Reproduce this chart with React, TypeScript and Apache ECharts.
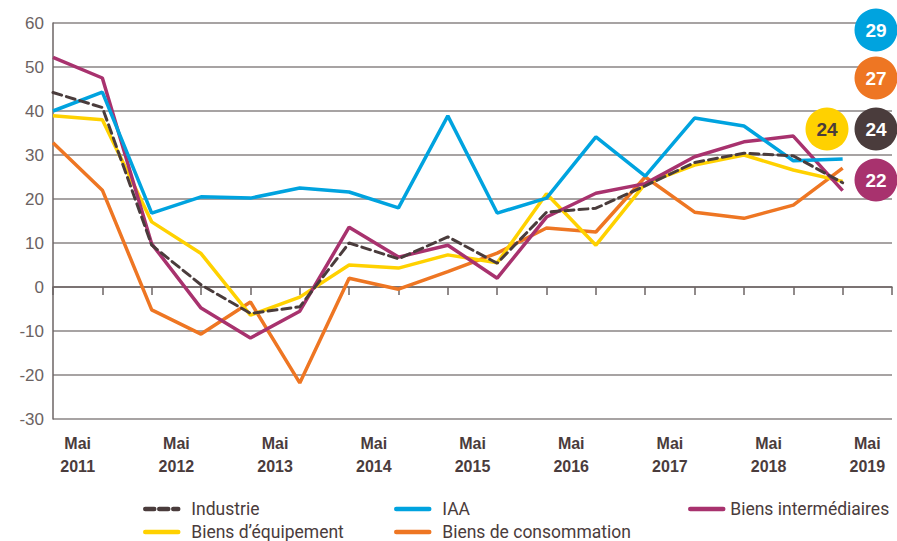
import React, { useEffect, useRef } from "react";
import * as echarts from "echarts";

const yearLabels = ["Mai\n2011", "Mai\n2012", "Mai\n2013", "Mai\n2014", "Mai\n2015", "Mai\n2016", "Mai\n2017", "Mai\n2018", "Mai\n2019"];

const industrie = [44.2, 40.8, 9.5, 0.5, -6, -4.5, 10, 6.4, 11.4, 5.4, 17, 17.9, 23, 28.3, 30.4, 29.8, 23.7];
const iaa = [40, 44.3, 16.8, 20.5, 20.2, 22.5, 21.6, 18, 38.9, 16.8, 20.2, 34.1, 25.2, 38.4, 36.6, 28.7, 29.1];
const intermediaires = [52.2, 47.5, 9.8, -4.8, -11.6, -5.5, 13.6, 6.8, 9.5, 2, 15.9, 21.3, 23.5, 29.6, 33, 34.3, 21.9];
const equipement = [38.9, 38, 14.8, 7.6, -6.4, -2.3, 5, 4.3, 7.3, 5.5, 21.2, 9.5, 23.5, 27.7, 30, 26.6, 24];
const consommation = [32.8, 22, -5.2, -10.7, -3.4, -21.8, 2, -0.5, 3.5, 7.7, 13.4, 12.5, 25, 17, 15.6, 18.6, 27];

const badgeValues = { iaa: 29, consommation: 27, industrie: 24, equipement: 24, intermediaires: 22 };

const C_DARK = "#4a3c3c";
const C_BLUE = "#00a3df";
const C_MAG = "#a8326e";
const C_YEL = "#ffd100";
const C_ORA = "#ee7623";

const toPts = (arr: number[]) => arr.map((v, i) => [i, v]);

export default function App() {
  const ref = useRef<HTMLDivElement>(null);
  useEffect(() => {
    if (!ref.current) return;
    const chart = echarts.init(ref.current, undefined, { renderer: "svg" });
    const legendBase = (name: string, left: number, top: number, pad: number) => ({
      data: [name],
      left,
      top,
      orient: "horizontal",
      itemWidth: 33,
      itemHeight: 14,
      selectedMode: false,
      itemStyle: { opacity: 0 },
      lineStyle: { width: 4.5, cap: "round" },
      textStyle: { color: C_DARK, fontSize: 17.5, fontFamily: "Roboto", padding: [0, 0, 0, pad] },
    });
    const badge = (cx: number, cy: number, fill: string, txt: string, tc: string) => [
      { type: "circle", shape: { cx, cy, r: 21.5 }, style: { fill }, z: 100 },
      {
        type: "text",
        x: cx,
        y: cy,
        z: 101,
        style: {
          text: txt,
          fill: tc,
          font: "bold 19px 'Liberation Sans', Arial, sans-serif",
          align: "center",
          verticalAlign: "middle",
        },
      },
    ];
    const lineSeries = (name: string, data: number[], color: string, dashed = false) => ({
      name,
      type: "line",
      data: toPts(data),
      symbol: "none",
      lineStyle: dashed ? { color, width: 3, type: [9, 5], cap: "round" } : { color, width: 3.5 },
      itemStyle: { color },
      xAxisIndex: 0,
    });
    chart.setOption({
      animation: false,
      grid: { left: 53, right: 5, top: 23, bottom: 122 },
      xAxis: [
        {
          type: "value",
          min: 0,
          max: 17,
          interval: 1,
          axisLine: { show: true, lineStyle: { color: "#6d6464", width: 1.5 } },
          axisTick: { show: true, length: 8, lineStyle: { color: "#6d6464", width: 1.5 } },
          axisLabel: { show: false },
          splitLine: { show: false },
        },
        {
          type: "value",
          min: 0,
          max: 17,
          interval: 0.5,
          position: "bottom",
          axisLine: { show: false },
          axisTick: { show: false },
          splitLine: { show: false },
          axisLabel: {
            show: true,
            margin: 13,
            color: C_DARK,
            fontSize: 16,
            fontWeight: "bold",
            lineHeight: 23,
            fontFamily: "'Liberation Sans', Arial, sans-serif",
            formatter: (v: number) => {
              const k = (v - 0.5) / 2;
              if (Number.isInteger(k) && k >= 0 && k < yearLabels.length) return yearLabels[k];
              return "";
            },
          },
        },
      ],
      yAxis: {
        type: "value",
        min: -30,
        max: 60,
        interval: 10,
        axisLine: { show: true, lineStyle: { color: "#6d6464", width: 1.5 } },
        axisTick: { show: false },
        axisLabel: { color: "#6b6262", fontSize: 17, margin: 9, fontFamily: "'Liberation Sans', Arial, sans-serif" },
        splitLine: { show: true, lineStyle: { color: "#8a8585", width: 1.5 } },
      },
      legend: [
        legendBase("Industrie", 138, 495, 8),
        legendBase("IAA", 389, 495, 8),
        legendBase("Biens intermédiaires", 683, 495, 2),
        legendBase("Biens d’équipement", 138, 518, 8),
        legendBase("Biens de consommation", 389, 518, 8),
      ],
      series: [
        lineSeries("Biens de consommation", consommation, C_ORA),
        lineSeries("Biens d’équipement", equipement, C_YEL),
        lineSeries("Biens intermédiaires", intermediaires, C_MAG),
        lineSeries("IAA", iaa, C_BLUE),
        lineSeries("Industrie", industrie, C_DARK, true),
      ],
      graphic: [
        ...badge(876, 30, C_BLUE, String(badgeValues.iaa), "#ffffff"),
        ...badge(876, 78, C_ORA, String(badgeValues.consommation), "#ffffff"),
        ...badge(876, 129, C_DARK, String(badgeValues.industrie), "#ffffff"),
        ...badge(827, 129, C_YEL, String(badgeValues.equipement), C_DARK),
        ...badge(876, 180, C_MAG, String(badgeValues.intermediaires), "#ffffff"),
      ],
    });
    return () => chart.dispose();
  }, []);
  return (
    <div
      ref={ref}
      style={{ position: "fixed", left: 0, top: 0, width: 897, height: 541, background: "#ffffff" }}
    />
  );
}
